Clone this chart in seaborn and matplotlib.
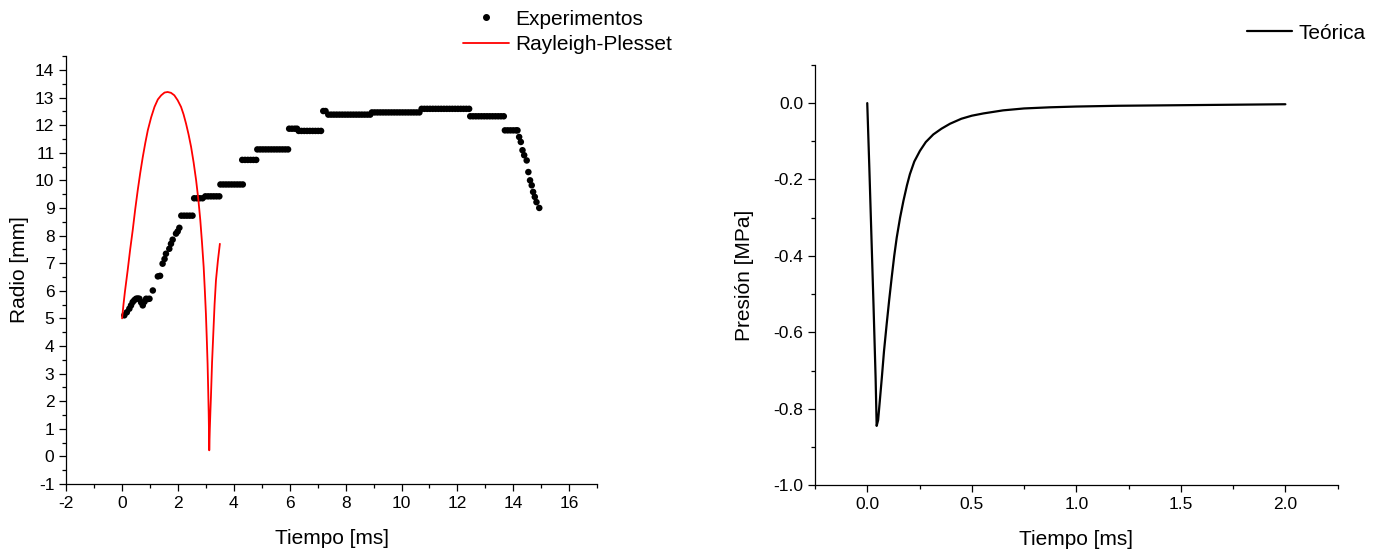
import matplotlib
matplotlib.use("Agg")
import matplotlib.pyplot as plt
from matplotlib.ticker import MultipleLocator
from matplotlib.lines import Line2D
import seaborn as sns
import pandas as pd

# --- experimental bubble radius (ms, mm) ---
exp_time = [
    0.08, 0.17, 0.26, 0.32, 0.38, 0.44, 0.50, 0.56, 0.62, 0.68, 0.74, 0.80, 0.86, 0.92, 0.98,
    1.10, 1.28, 1.36, 1.45, 1.52, 1.57, 1.69, 1.75, 1.81, 1.93, 1.99, 2.05,
    2.12, 2.22, 2.32, 2.42, 2.52,
    2.58, 2.68, 2.78, 2.88,
    2.98, 3.08, 3.18, 3.28, 3.38, 3.48,
    3.52, 3.62, 3.72, 3.82, 3.92, 4.02, 4.12, 4.22, 4.32,
    4.30, 4.40, 4.50, 4.60, 4.70, 4.80,
    4.84, 4.94, 5.04, 5.14, 5.24, 5.34, 5.44, 5.54, 5.64, 5.74, 5.84, 5.94,
    5.98, 6.08, 6.18, 6.26,
    6.32, 6.42, 6.52, 6.62, 6.72, 6.82, 6.92, 7.02, 7.12,
    7.20, 7.28,
    7.38, 7.48, 7.58, 7.68, 7.78, 7.88, 7.98, 8.08, 8.18, 8.28, 8.38, 8.48, 8.58, 8.68, 8.78, 8.88,
    8.94, 9.04, 9.14, 9.24, 9.34, 9.44, 9.54, 9.64, 9.74, 9.84, 9.94, 10.04, 10.14, 10.24, 10.34,
    10.44, 10.54, 10.64,
    10.72, 10.82, 10.92, 11.02, 11.12, 11.22, 11.32, 11.42, 11.52, 11.62, 11.72, 11.82, 11.92,
    12.02, 12.12, 12.22, 12.32, 12.42,
    12.46, 12.56, 12.66, 12.76, 12.86, 12.96, 13.06, 13.16, 13.26, 13.36, 13.46, 13.56, 13.66,
    13.70, 13.80, 13.90, 14.00, 14.10, 14.15,
    14.21, 14.27, 14.33, 14.39, 14.48, 14.54, 14.60, 14.66, 14.71, 14.77, 14.83, 14.93,
]
exp_radius = [
    5.11, 5.22, 5.35, 5.47, 5.59, 5.66, 5.71, 5.72, 5.71, 5.58, 5.47, 5.60, 5.71, 5.70, 5.71,
    6.01, 6.52, 6.54, 6.98, 7.15, 7.34, 7.52, 7.70, 7.85, 8.07, 8.15, 8.28,
    8.72, 8.72, 8.72, 8.72, 8.72,
    9.35, 9.35, 9.35, 9.35,
    9.42, 9.42, 9.42, 9.42, 9.42, 9.42,
    9.85, 9.85, 9.85, 9.85, 9.85, 9.85, 9.85, 9.85, 9.85,
    10.74, 10.74, 10.74, 10.74, 10.74, 10.74,
    11.12, 11.12, 11.12, 11.12, 11.12, 11.12, 11.12, 11.12, 11.12, 11.12, 11.12, 11.12,
    11.87, 11.87, 11.87, 11.87,
    11.79, 11.79, 11.79, 11.79, 11.79, 11.79, 11.79, 11.79, 11.79,
    12.51, 12.51,
    12.38, 12.38, 12.38, 12.38, 12.38, 12.38, 12.38, 12.38, 12.38, 12.38, 12.38, 12.38, 12.38,
    12.38, 12.38, 12.38,
    12.46, 12.46, 12.46, 12.46, 12.46, 12.46, 12.46, 12.46, 12.46, 12.46, 12.46, 12.46, 12.46,
    12.46, 12.46, 12.46, 12.46, 12.46,
    12.59, 12.59, 12.59, 12.59, 12.59, 12.59, 12.59, 12.59, 12.59, 12.59, 12.59, 12.59, 12.59,
    12.59, 12.59, 12.59, 12.59, 12.59,
    12.32, 12.32, 12.32, 12.32, 12.32, 12.32, 12.32, 12.32, 12.32, 12.32, 12.32, 12.32, 12.32,
    11.81, 11.81, 11.81, 11.81, 11.81, 11.81,
    11.57, 11.39, 11.09, 10.91, 10.72, 10.30, 10.00, 9.82, 9.58, 9.40, 9.21, 9.00,
]

# --- Rayleigh-Plesset model ---
rp_time = [0.0, 0.05, 0.1, 0.2, 0.29, 0.38, 0.47, 0.56, 0.65, 0.74, 0.83, 0.92, 1.04, 1.16,
           1.28, 1.4, 1.52, 1.63, 1.75, 1.87, 1.99, 2.11, 2.2, 2.29, 2.38, 2.47, 2.56, 2.65,
           2.73, 2.8, 2.86, 2.92, 2.96, 3.0, 3.03, 3.06, 3.08, 3.1, 3.11, 3.12, 3.14, 3.16,
           3.18, 3.22, 3.27, 3.31, 3.36, 3.43, 3.5]
rp_radius = [5.0, 5.5, 5.95, 6.74, 7.5, 8.19, 8.95, 9.64, 10.27, 10.84, 11.35, 11.81, 12.28,
             12.66, 12.93, 13.08, 13.18, 13.2, 13.17, 13.08, 12.9, 12.66, 12.39, 12.05, 11.66,
             11.21, 10.65, 10.0, 9.3, 8.55, 7.75, 6.86, 6.05, 5.17, 4.3, 3.36, 2.5, 1.55, 0.9,
             0.22, 1.0, 1.6, 2.15, 3.4, 4.57, 5.5, 6.38, 7.1, 7.7]

# --- theoretical pressure (ms, MPa) ---
p_time = [0.0, 0.01, 0.02, 0.03, 0.04, 0.045, 0.052, 0.06, 0.07, 0.08, 0.093, 0.105, 0.117,
          0.129, 0.141, 0.157, 0.173, 0.19, 0.204, 0.225, 0.252, 0.28, 0.316, 0.355, 0.396,
          0.45, 0.5, 0.556, 0.65, 0.75, 0.874, 1.0, 1.2, 1.4, 1.6, 1.8, 2.0]
p_value = [0.0, -0.17, -0.35, -0.53, -0.72, -0.845, -0.83, -0.78, -0.717, -0.65, -0.578,
           -0.515, -0.456, -0.40, -0.352, -0.30, -0.256, -0.215, -0.186, -0.153, -0.125,
           -0.102, -0.082, -0.067, -0.054, -0.041, -0.033, -0.027, -0.019, -0.014, -0.011,
           -0.009, -0.007, -0.006, -0.005, -0.004, -0.003]

exp_df = pd.DataFrame({"t": exp_time, "r": exp_radius})
rp_df = pd.DataFrame({"t": rp_time, "r": rp_radius})
p_df = pd.DataFrame({"t": p_time, "p": p_value})

sns.set_theme(style="ticks")
plt.rcParams["font.family"] = ["Liberation Sans", "DejaVu Sans"]
plt.rcParams.update({
    "axes.unicode_minus": False,
    "axes.linewidth": 0.9,
    "xtick.major.size": 5, "ytick.major.size": 5,
    "xtick.minor.size": 3, "ytick.minor.size": 3,
    "xtick.major.width": 0.9, "ytick.major.width": 0.9,
    "xtick.minor.width": 0.9, "ytick.minor.width": 0.9,
    "xtick.direction": "out", "ytick.direction": "out",
    "xtick.color": "black", "ytick.color": "black",
    "axes.edgecolor": "black", "text.color": "black", "axes.labelcolor": "black",
})
tick_font = ["Liberation Sans Narrow", "Liberation Sans", "DejaVu Sans"]

fig = plt.figure(figsize=(13.79, 5.5), dpi=100)
ax1 = fig.add_axes([0.048, 0.12, 0.385, 0.778])
ax2 = fig.add_axes([0.591, 0.118, 0.379, 0.764])

# left panel: radius
sns.lineplot(data=rp_df, x="t", y="r", ax=ax1, color="#ff0000", lw=1.3, sort=False,
             estimator=None)
sns.scatterplot(data=exp_df, x="t", y="r", ax=ax1, color="black", s=22, edgecolor="none")
ax1.set_xlim(-2, 17)
ax1.set_ylim(-1, 14.5)
ax1.xaxis.set_major_locator(MultipleLocator(2))
ax1.xaxis.set_minor_locator(MultipleLocator(1))
ax1.yaxis.set_major_locator(MultipleLocator(1))
ax1.yaxis.set_minor_locator(MultipleLocator(0.5))
ax1.set_xlabel("Tiempo [ms]", fontsize=15, labelpad=13)
ax1.set_ylabel("Radio [mm]", fontsize=15, labelpad=4)

# right panel: pressure
sns.lineplot(data=p_df, x="t", y="p", ax=ax2, color="black", lw=1.6, sort=False,
             estimator=None)
ax2.set_xlim(-0.25, 2.25)
ax2.set_ylim(-1.0, 0.1)
ax2.xaxis.set_major_locator(MultipleLocator(0.5))
ax2.xaxis.set_minor_locator(MultipleLocator(0.25))
ax2.yaxis.set_major_locator(MultipleLocator(0.2))
ax2.yaxis.set_minor_locator(MultipleLocator(0.1))
ax2.xaxis.set_major_formatter(plt.FormatStrFormatter("%.1f"))
ax2.yaxis.set_major_formatter(plt.FormatStrFormatter("%.1f"))
ax2.set_xlabel("Tiempo [ms]", fontsize=15, labelpad=13)
ax2.set_ylabel("Presión [MPa]", fontsize=15, labelpad=14)

for ax in (ax1, ax2):
    sns.despine(ax=ax)
    for lab in ax.get_xticklabels() + ax.get_yticklabels():
        lab.set_family(tick_font)
        lab.set_fontsize(12.5)

# legends placed above the panels
h_exp = Line2D([], [], marker="o", ls="none", color="black", markersize=4)
h_rp = Line2D([], [], color="#ff0000", lw=1.3)
fig.legend([h_exp, h_rp], ["Experimentos", "Rayleigh-Plesset"], loc="upper left",
           bbox_to_anchor=(0.327, 1.005), frameon=False, fontsize=15, handlelength=2.2,
           handletextpad=0.3, labelspacing=0.3, borderaxespad=0.2)
h_p = Line2D([], [], color="black", lw=1.6)
fig.legend([h_p], ["Teórica"], loc="upper right", bbox_to_anchor=(1.004, 0.991),
           frameon=False, fontsize=15, handlelength=2.2, handletextpad=0.3)

fig.savefig("out.png", dpi=100)
